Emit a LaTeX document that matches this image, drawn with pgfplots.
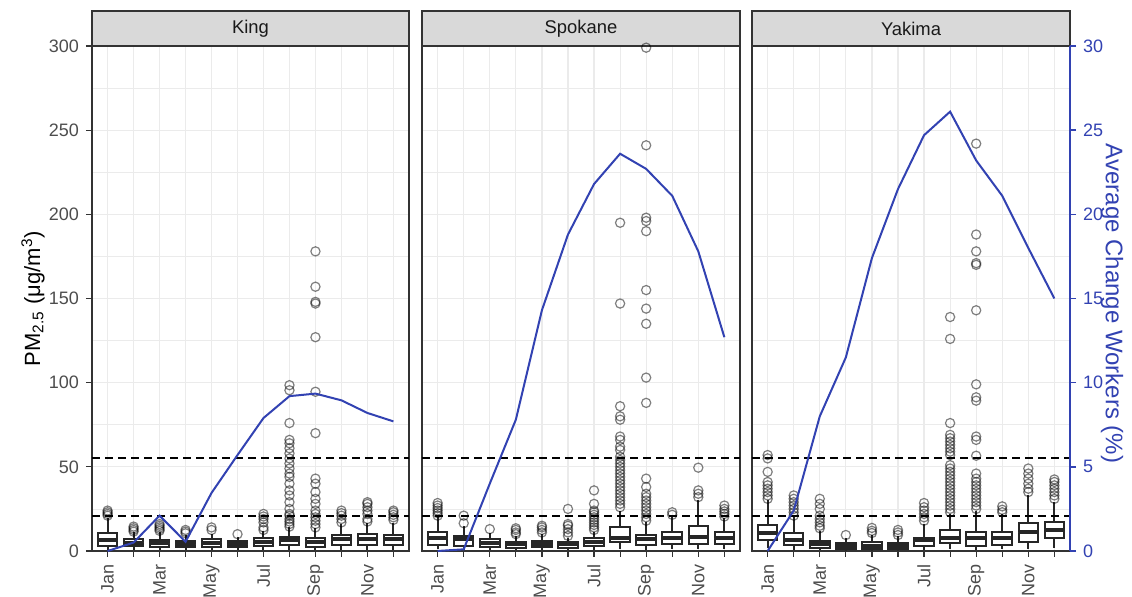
\documentclass[border=0pt]{standalone}
\usepackage{pgfplots}
\pgfplotsset{compat=1.18}
\usepgfplotslibrary{statistics}
\usepackage{fontspec}
\setmainfont{Liberation Sans}
\definecolor{gridc}{HTML}{EBEBEB}
\definecolor{border}{HTML}{333333}
\definecolor{tickc}{HTML}{4D4D4D}
\definecolor{stripc}{HTML}{D9D9D9}
\definecolor{lineblue}{HTML}{3242B2}

\pgfplotsset{
 panel/.style={scale only axis, height=252.5bp, xmin=0.4, xmax=12.6, ymin=0, ymax=300, clip=false,
  xtick={1,...,12}, xticklabels={Jan,,Mar,,May,,Jul,,Sep,,Nov,},
  ytick={0,50,...,300}, minor ytick={25,75,...,275},
  xmajorgrids, ymajorgrids, yminorgrids,
  major grid style={draw=gridc, line width=0.6bp},
  minor grid style={draw=gridc, line width=0.3bp},
  axis line style={draw=border, line width=0.6bp},
  tick align=outside, tick pos=left,
  major tick length=3bp, minor tick length=0pt,
  tick style={draw=border, line width=0.6bp},
  tick label style={font=\fontsize{9bp}{10bp}\selectfont, text=tickc},
  xticklabel style={rotate=90, anchor=east},
  scaled y ticks=false, /pgf/number format/assume math mode=true,
 },
 boxst/.style={boxplot/draw direction=y, boxplot/box extend=0.75, boxplot/whisker extend=0, draw=black!85, fill=white, line width=1bp, boxplot/every median/.style={line width=2bp}},
 outl/.style={only marks, mark=o, mark size=2.3bp, mark options={draw=black, draw opacity=0.5, line width=0.6bp}},
 thr/.style={black, line width=1bp, dash pattern=on 4bp off 2.5bp},
 blueln/.style={lineblue, line width=1bp, mark=none},
 over/.style={scale only axis, height=252.5bp, xmin=0.4, xmax=12.6, ymin=0, ymax=30, clip=false, /pgf/number format/assume math mode=true},
}
\newcommand{\bx}[6]{\addplot[boxst, boxplot prepared={draw direction=y, draw position=#1, lower whisker=#2, lower quartile=#3, median=#4, upper quartile=#5, upper whisker=#6}] coordinates {};}
\newcommand{\strip}[1]{\draw[fill=stripc, draw=border, line width=0.6bp] (rel axis cs:0,1) rectangle (rel axis cs:1,1.0693);
 \node[font=\fontsize{9.2bp}{10bp}\selectfont, text=black!90] at (rel axis cs:0.5,1.0347) {#1};}

\begin{document}
\begin{tikzpicture}
\useasboundingbox (0,0) rectangle (566bp,298.5bp);

% ---------------- King ----------------
\begin{axis}[panel, width=158.5bp, at={(46bp,23bp)}, anchor=south west]
\bx{1}{0.5}{3}{6.5}{10.5}{19.5}
\bx{2}{0.5}{3}{5}{7}{11}
\bx{3}{0.5}{2.6}{4.5}{6.5}{11.5}
\bx{4}{0.5}{2.2}{4}{6}{9.5}
\bx{5}{0.5}{2.6}{5}{7}{10}
\bx{6}{0.5}{2.2}{4}{6}{8.5}
\bx{7}{0.5}{3}{5.5}{7.5}{12}
\bx{8}{0.5}{3.4}{6.5}{8.5}{14}
\bx{9}{0.5}{2.6}{5.5}{8}{13.5}
\bx{10}{0.5}{3.4}{7}{9.5}{16}
\bx{11}{0.5}{3.4}{7}{10}{16.5}
\bx{12}{0.5}{3.4}{7}{9.5}{16.5}
\addplot[outl] coordinates {
(1,21)(1,22)(1,23)(1,24)
(2,11.5)(2,12.5)(2,13.5)(2,14.5)
(3,12)(3,13)(3,14)(3,15)(3,16)
(4,10.5)(4,11.5)(4,12.5)
(5,12.5)(5,14)
(6,10)
(7,12.5)(7,14)(7,17)(7,19)(7,20.5)(7,22)
(8,14.5)(8,16)(8,17.5)(8,19)(8,21)(8,22)(8,25)(8,29)(8,33)(8,36)(8,40)(8,44)(8,46)(8,49)(8,52)(8,55)(8,58)(8,61)(8,64)(8,66)(8,76)(8,95.5)(8,98.5)
(9,14)(9,16)(9,18)(9,20)(9,22)(9,24)(9,28)(9,31)(9,35)(9,40)(9,43)(9,70)(9,94.6)(9,127)(9,147)(9,148)(9,157)(9,178)
(10,17)(10,19)(10,21)(10,22.5)(10,24)
(11,17.5)(11,19)(11,22)(11,24)(11,26)(11,28)(11,29)
(12,18.5)(12,20)(12,21.5)(12,23)(12,24)
};
\addplot[thr] coordinates {(0.4,55.5) (12.6,55.5)};
\addplot[thr] coordinates {(0.4,20.5) (12.6,20.5)};
\node[rotate=90, font=\fontsize{11bp}{12bp}\selectfont] at (rel axis cs:-0.186,0.5) {PM\textsubscript{2.5} (μg/m\textsuperscript{3})};
\strip{King}
\end{axis}
\begin{axis}[over, width=158.5bp, at={(46bp,23bp)}, anchor=south west, hide axis]
\addplot[blueln] coordinates {(1,0)(2,0.5)(3,2.1)(4,0.55)(5,3.45)(6,5.7)(7,7.9)(8,9.2)(9,9.35)(10,8.95)(11,8.2)(12,7.7)};
\end{axis}

% ---------------- Spokane ----------------
\begin{axis}[panel, width=159bp, at={(211bp,23bp)}, anchor=south west, yticklabels={}, ytick style={draw=none}]
\bx{1}{1}{3.6}{7.5}{11.5}{20.5}
\bx{2}{0.5}{3.2}{7}{9}{15}
\bx{3}{0.5}{2.6}{5}{7}{10.5}
\bx{4}{0.5}{2}{4}{5.5}{9}
\bx{5}{0.5}{2.2}{4}{6}{10}
\bx{6}{0.5}{2}{4}{5.5}{8}
\bx{7}{0.5}{3.2}{5.5}{8}{11.5}
\bx{8}{1}{5.5}{7.5}{14}{24}
\bx{9}{0.5}{3.5}{7}{9.5}{17}
\bx{10}{1}{4.2}{7.5}{11.5}{21}
\bx{11}{1}{4.2}{8.5}{15}{30}
\bx{12}{1}{4.2}{7.7}{11}{19.5}
\addplot[outl] coordinates {
(1,21)(1,22.5)(1,24)(1,25.5)(1,27)(1,28.5)
(2,16.5)(2,21)
(3,13)
(4,10)(4,11)(4,12.5)(4,13.5)
(5,11)(5,12.5)(5,14)(5,15)
(6,9)(6,11)(6,13)(6,15)(6,16)(6,25)
(7,12.5)(7,14)(7,15.5)(7,17)(7,18.5)(7,20)(7,21.5)(7,23)(7,24)(7,28)(7,36)
(8,26)(8,28)(8,30)(8,32)(8,34)(8,36)(8,38)(8,40)(8,42)(8,44)(8,46)(8,48)(8,50)(8,52)(8,54)(8,56)(8,60)(8,62)(8,66)(8,68)(8,78)(8,80)(8,86)(8,147)(8,195)
(9,18)(9,20)(9,22)(9,24)(9,26)(9,28)(9,30)(9,32)(9,34)(9,38)(9,43)(9,88)(9,103)(9,135)(9,144)(9,155)(9,190)(9,196)(9,198)(9,241)(9,299)
(10,21.5)(10,23)
(11,32)(11,34)(11,36)(11,49.5)
(12,20.5)(12,22)(12,23.5)(12,25)(12,27)
};
\addplot[thr] coordinates {(0.4,55.5) (12.6,55.5)};
\addplot[thr] coordinates {(0.4,20.5) (12.6,20.5)};
\strip{Spokane}
\end{axis}
\begin{axis}[over, width=159bp, at={(211bp,23bp)}, anchor=south west, hide axis]
\addplot[blueln] coordinates {(1,0)(2,0.1)(3,4.0)(4,7.8)(5,14.3)(6,18.8)(7,21.8)(8,23.6)(9,22.7)(10,21.1)(11,17.8)(12,12.7)};
\end{axis}

% ---------------- Yakima ----------------
\begin{axis}[panel, width=159bp, at={(376bp,23bp)}, anchor=south west, yticklabels={}, ytick style={draw=none}]
\bx{1}{1.5}{6.5}{10.5}{15.5}{30}
\bx{2}{0.5}{3.6}{6.5}{10.5}{20}
\bx{3}{0.5}{2}{4}{6}{12}
\bx{4}{0.2}{1.2}{3}{4.5}{8}
\bx{5}{0.2}{1.2}{3.2}{5.2}{9.5}
\bx{6}{0.2}{1.2}{3}{4.9}{9}
\bx{7}{0.5}{3.2}{6.5}{8}{16}
\bx{8}{1}{4.5}{8}{12.5}{22}
\bx{9}{0.5}{3.2}{7.5}{11.5}{24}
\bx{10}{1}{3.6}{7.5}{11.5}{22}
\bx{11}{1}{5.2}{11}{16.5}{33}
\bx{12}{2}{7.5}{12.5}{17}{29}
\addplot[outl] coordinates {
(1,31)(1,33)(1,35)(1,37)(1,39)(1,41)(1,47)(1,55)(1,57)
(2,21)(2,23)(2,25)(2,27)(2,29)(2,31)(2,33)
(3,13.5)(3,15)(3,17)(3,19)(3,21)(3,25)(3,28)(3,31)
(4,9.5)
(5,10.7)(5,12)(5,13.7)
(6,9.5)(6,11)(6,12.5)
(7,18)(7,20)(7,22)(7,24)(7,26)(7,28.5)
(8,23)(8,25)(8,27)(8,29)(8,31)(8,33)(8,35)(8,37)(8,39)(8,41)(8,43)(8,45)(8,47)(8,49)(8,51)(8,57)(8,59)(8,61)(8,63)(8,65)(8,67)(8,69)(8,76)(8,126)(8,139)
(9,25)(9,27)(9,29)(9,31)(9,33)(9,35)(9,37)(9,39)(9,41)(9,43)(9,46)(9,56.6)(9,66)(9,68)(9,89.3)(9,91.3)(9,99)(9,143)(9,170)(9,171)(9,178)(9,188)(9,242)
(10,23)(10,24.5)(10,26.5)
(11,35)(11,37)(11,40)(11,43)(11,46)(11,49)
(12,31)(12,33)(12,35)(12,37)(12,39)(12,41)(12,42.5)
};
\addplot[thr] coordinates {(0.4,55.5) (12.6,55.5)};
\addplot[thr] coordinates {(0.4,20.5) (12.6,20.5)};
\strip{Yakima}
\end{axis}
\begin{axis}[over, width=159bp, at={(376bp,23bp)}, anchor=south west,
  axis x line=none, axis y line*=right,
  ytick={0,5,...,30}, tick align=outside, major tick length=3bp,
  y axis line style={draw=lineblue, line width=1bp},
  ytick style={draw=lineblue, line width=0.8bp},
  tick label style={font=\fontsize{9bp}{10bp}\selectfont, text=lineblue}]
\addplot[blueln] coordinates {(1,0)(2,2.4)(3,8.0)(4,11.5)(5,17.4)(6,21.5)(7,24.7)(8,26.1)(9,23.2)(10,21.1)(11,18.0)(12,15.0)};
\node[rotate=-90, text=lineblue, font=\fontsize{12bp}{13bp}\selectfont] at (rel axis cs:1.132,0.49) {Average Change Workers (\%)};
\end{axis}
\end{tikzpicture}
\end{document}
